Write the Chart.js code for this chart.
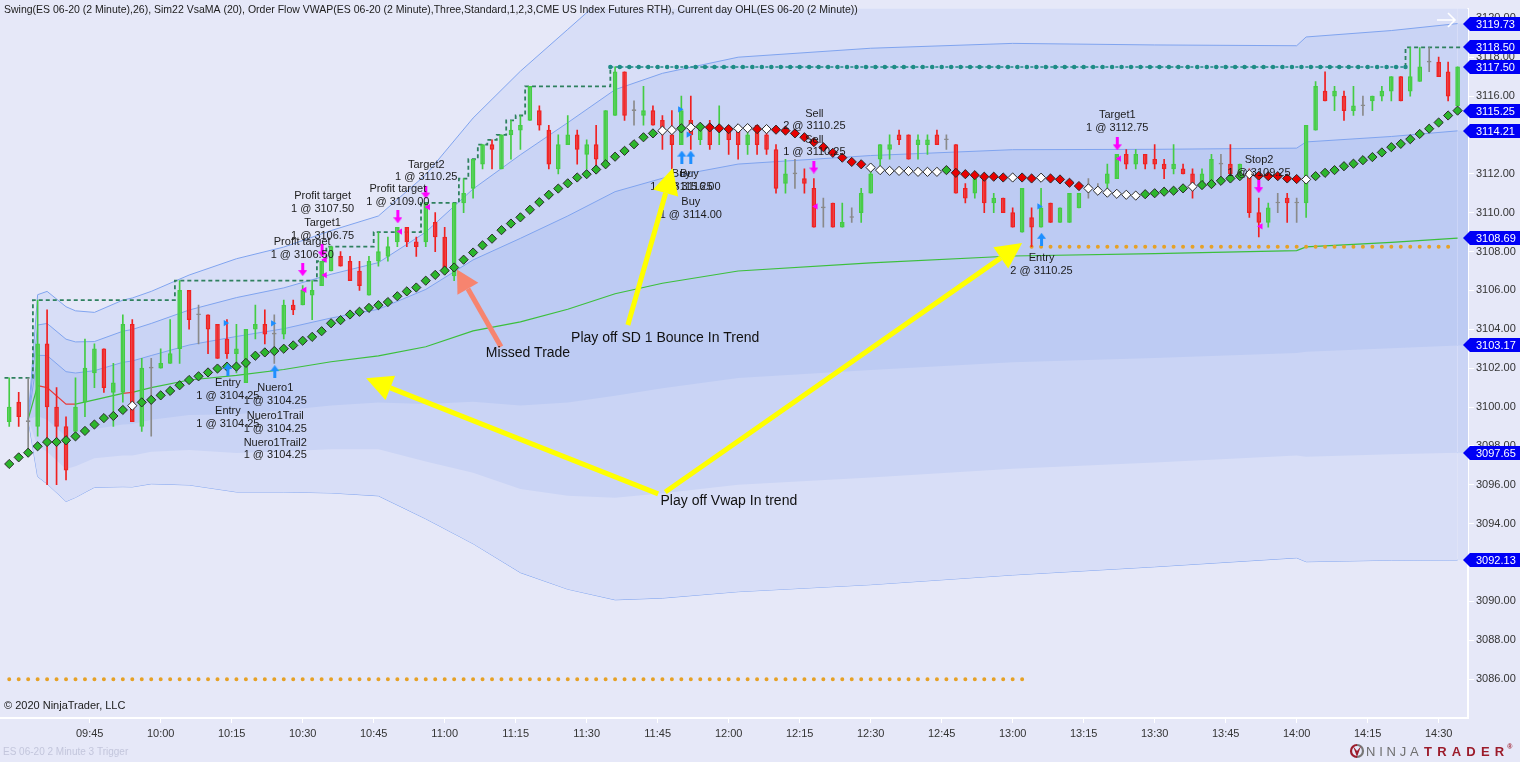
<!DOCTYPE html>
<html>
<head>
<meta charset="utf-8">
<script src="https://cdn.jsdelivr.net/npm/chart.js@4.4.1/dist/chart.umd.min.js"></script>
<style>
  html, body { margin: 0; padding: 0; background: #e6e8f8; }
  #wrap { width: 1520px; height: 762px; position: relative; }
</style>
</head>
<body>
<div id="wrap"><canvas id="chart"></canvas></div>
<script>
// ---- data (ES 06-20, 2 minute bars) ----
const chartTitle = 'Swing(ES 06-20 (2 Minute),26), Sim22 VsaMA (20), Order Flow VWAP(ES 06-20 (2 Minute),Three,Standard,1,2,3,CME US Index Futures RTH), Current day OHL(ES 06-20 (2 Minute))';
const firstBar = '09:28';
const timeTicks = ['09:45','10:00','10:15','10:30','10:45','11:00','11:15','11:30','11:45','12:00','12:15','12:30','12:45','13:00','13:15','13:30','13:45','14:00','14:15','14:30'];
const priceTicks = [3086,3088,3090,3092,3094,3096,3098,3100,3102,3104,3106,3108,3110,3112,3114,3116,3118,3120];

const opens = [
  3099.25,3100.25,3099.25,3099.0,3103.25,3100.0,3099.0,3098.75,3100.25,3101.75,
  3103.0,3100.75,3100.75,3104.25,3099.0,3102.0,3102.0,3102.25,3103.0,3106.0,
  3104.75,3104.75,3104.25,3103.5,3102.75,3101.25,3104.0,3104.25,3103.75,3103.75,
  3105.25,3105.25,3105.75,3106.25,3107.0,3107.75,3107.5,3107.0,3105.75,3107.5,
  3107.75,3108.5,3109.25,3108.5,3108.5,3109.5,3108.75,3106.75,3110.5,3111.25,
  3112.5,3113.5,3112.25,3114.0,3114.25,3114.75,3115.25,3114.25,3112.25,3113.5,
  3114.0,3113.0,3113.5,3112.5,3115.0,3117.25,3115.25,3115.0,3115.25,3114.75,
  3114.0,3113.5,3114.75,3113.75,3114.5,3114.25,3114.25,3114.25,3113.5,3114.5,
  3114.0,3113.25,3111.5,3112.0,3111.75,3111.25,3110.25,3110.5,3109.25,3109.75,
  3110.0,3111.0,3112.75,3113.25,3114.0,3114.0,3113.5,3113.5,3114.0,3113.75,
  3113.5,3111.25,3111.0,3111.75,3110.5,3110.75,3110.0,3109.0,3109.75,3109.25,
  3110.5,3109.5,3109.5,3110.25,3111.25,3111.25,3111.5,3111.75,3113.0,3112.5,
  3113.0,3112.75,3112.5,3112.25,3112.25,3112.0,3111.5,3111.5,3112.5,3112.5,
  3111.75,3112.0,3110.0,3109.5,3110.5,3110.75,3110.5,3110.5,3114.25,3116.25,
  3116.0,3116.0,3115.25,3115.5,3115.75,3116.0,3116.25,3117.0,3116.25,3116.75,
  3117.75,3117.75,3117.25,3115.5
];
const highs = [
  3101.5,3100.75,3101.5,3105.5,3105.0,3101.0,3099.5,3101.5,3103.5,3103.25,
  3103.0,3102.25,3104.75,3104.5,3102.5,3102.5,3103.0,3104.5,3106.5,3106.0,
  3105.25,3104.75,3104.25,3104.5,3104.25,3104.0,3105.25,3105.0,3104.75,3105.5,
  3105.5,3106.25,3106.5,3107.5,3108.25,3108.0,3107.75,3107.5,3107.75,3109.0,
  3108.75,3109.25,3109.25,3108.75,3110.5,3110.0,3109.25,3110.5,3111.75,3112.75,
  3113.5,3113.75,3114.0,3114.75,3115.0,3116.5,3115.5,3114.5,3114.0,3115.0,
  3114.25,3113.75,3114.5,3115.25,3117.5,3117.25,3115.75,3116.5,3115.5,3115.0,
  3115.25,3116.0,3116.0,3114.5,3114.75,3115.5,3114.5,3114.5,3114.5,3114.5,
  3114.25,3113.5,3112.75,3112.75,3112.25,3111.75,3110.75,3110.5,3110.5,3110.25,
  3111.25,3112.25,3113.5,3114.0,3114.25,3114.0,3114.0,3114.0,3114.25,3114.0,
  3113.5,3111.5,3112.0,3112.0,3111.0,3110.75,3110.25,3111.25,3110.25,3111.25,
  3110.5,3110.25,3111.0,3111.0,3111.75,3111.5,3112.5,3113.0,3113.25,3113.25,
  3113.0,3113.5,3112.75,3113.5,3112.5,3112.25,3112.25,3113.0,3113.0,3113.5,
  3112.5,3112.25,3110.75,3110.5,3111.0,3111.0,3110.75,3114.5,3116.75,3117.25,
  3116.5,3116.25,3116.5,3116.0,3116.0,3116.5,3117.0,3117.0,3118.5,3118.5,
  3118.5,3118.0,3117.75,3117.5
];
const lows = [
  3099.0,3099.0,3097.75,3098.5,3096.0,3096.0,3096.25,3098.75,3099.5,3101.0,
  3100.75,3099.0,3100.25,3099.25,3098.75,3098.5,3102.0,3102.25,3102.25,3104.0,
  3103.25,3102.75,3102.5,3102.5,3101.75,3101.25,3103.5,3103.25,3102.25,3103.5,
  3104.75,3105.25,3104.5,3106.25,3107.0,3107.25,3106.5,3106.0,3105.75,3107.25,
  3107.5,3108.25,3108.25,3107.75,3108.25,3108.0,3107.0,3106.5,3110.0,3110.75,
  3112.25,3112.25,3112.25,3112.75,3113.25,3114.75,3114.25,3112.25,3112.0,3113.5,
  3112.5,3112.25,3112.25,3112.5,3115.0,3114.75,3114.5,3114.5,3114.5,3113.25,
  3112.25,3113.5,3113.25,3113.5,3113.25,3113.5,3113.0,3112.75,3113.0,3113.0,
  3113.0,3111.0,3111.0,3111.25,3111.0,3109.25,3109.25,3109.25,3109.25,3109.5,
  3109.5,3111.0,3112.25,3112.75,3113.5,3112.75,3112.75,3113.0,3113.5,3113.25,
  3111.0,3110.5,3110.75,3110.0,3110.0,3110.0,3109.25,3109.0,3108.25,3109.25,
  3109.5,3109.5,3109.5,3110.25,3110.75,3111.0,3111.0,3111.75,3112.25,3112.25,
  3112.25,3112.25,3111.75,3112.0,3112.0,3110.75,3111.25,3111.5,3111.75,3111.75,
  3111.75,3109.75,3108.75,3109.25,3110.0,3109.5,3109.5,3109.75,3114.25,3115.75,
  3115.25,3114.75,3115.0,3115.0,3115.25,3115.75,3115.75,3115.75,3116.0,3116.75,
  3117.25,3117.0,3115.75,3115.5
];
const closes = [
  3100.0,3099.5,3099.25,3103.25,3100.0,3099.0,3096.75,3100.0,3102.0,3103.0,
  3101.0,3101.25,3104.25,3099.25,3102.0,3102.0,3102.25,3102.75,3106.0,3104.5,
  3104.75,3104.0,3102.5,3102.75,3103.0,3104.0,3104.25,3103.75,3103.75,3105.25,
  3105.0,3106.0,3106.0,3107.5,3108.25,3107.25,3106.5,3106.25,3107.5,3108.0,
  3108.25,3109.25,3108.5,3108.25,3110.5,3108.75,3107.0,3110.5,3111.0,3112.75,
  3113.5,3113.25,3114.0,3114.25,3114.5,3116.5,3114.5,3112.5,3113.5,3114.0,
  3113.25,3113.5,3112.75,3115.25,3117.25,3115.0,3115.25,3115.25,3114.5,3114.25,
  3113.5,3115.25,3114.0,3114.25,3113.5,3114.5,3113.75,3113.5,3114.0,3113.5,
  3113.25,3111.25,3112.0,3112.0,3111.5,3109.25,3110.25,3109.25,3109.5,3109.75,
  3111.0,3112.0,3113.5,3113.5,3113.75,3112.75,3113.75,3113.75,3113.5,3113.75,
  3111.0,3110.75,3111.75,3110.5,3110.75,3110.0,3109.25,3111.25,3109.25,3110.25,
  3109.5,3110.25,3111.0,3111.0,3111.25,3111.25,3112.0,3113.0,3112.5,3113.0,
  3112.5,3112.5,3112.25,3112.5,3112.0,3111.25,3112.0,3112.75,3112.5,3112.0,
  3112.5,3110.0,3109.5,3110.25,3110.5,3110.5,3110.5,3114.5,3116.5,3115.75,
  3116.25,3115.25,3115.5,3115.5,3116.0,3116.25,3117.0,3115.75,3117.0,3117.5,
  3117.75,3117.0,3116.0,3117.5
];

// Sim22 VsaMA (20), one diamond per bar
const vsaVals = [
  3097.07,3097.41,3097.65,3097.98,3098.20,3098.20,3098.29,3098.49,3098.77,3099.10,
  3099.43,3099.54,3099.85,3100.07,3100.24,3100.37,3100.60,3100.83,3101.12,3101.39,
  3101.58,3101.78,3101.98,3102.08,3102.08,3102.27,3102.64,3102.81,3102.88,3103.00,
  3103.17,3103.41,3103.61,3103.90,3104.31,3104.47,3104.76,3104.90,3105.10,3105.24,
  3105.40,3105.70,3105.95,3106.15,3106.50,3106.80,3107.02,3107.18,3107.58,3107.95,
  3108.32,3108.66,3109.10,3109.44,3109.76,3110.15,3110.54,3110.92,3111.24,3111.51,
  3111.81,3111.98,3112.22,3112.49,3112.88,3113.18,3113.52,3113.88,3114.08,3114.22,
  3114.25,3114.34,3114.39,3114.42,3114.39,3114.34,3114.30,3114.34,3114.35,3114.30,
  3114.30,3114.27,3114.22,3114.08,3113.88,3113.63,3113.37,3113.08,3112.83,3112.61,
  3112.49,3112.32,3112.19,3112.15,3112.15,3112.14,3112.10,3112.10,3112.10,3112.19,
  3112.05,3111.98,3111.93,3111.85,3111.85,3111.81,3111.81,3111.81,3111.76,3111.80,
  3111.76,3111.71,3111.54,3111.37,3111.25,3111.13,3111.03,3110.97,3110.92,3110.88,
  3110.95,3111.00,3111.08,3111.13,3111.25,3111.34,3111.42,3111.47,3111.64,3111.76,
  3111.88,3111.98,3111.90,3111.88,3111.88,3111.76,3111.73,3111.71,3111.88,3112.05,
  3112.19,3112.39,3112.52,3112.70,3112.86,3113.10,3113.37,3113.54,3113.78,3114.05,
  3114.32,3114.64,3115.00,3115.25
];
// diamond colour per bar: g = up, r = down, w = neutral
const vsaTrend = 'g'.repeat(13) + 'w' + 'g'.repeat(55) + 'wwgwg' + 'rrr' + 'ww' + 'r' + 'w' +
  'r'.repeat(10) + 'w'.repeat(8) + 'g' + 'r'.repeat(6) + 'w' + 'rr' + 'w' + 'r'.repeat(4) +
  'w'.repeat(6) + 'g'.repeat(5) + 'w' + 'g'.repeat(5) + 'w' + 'r'.repeat(5) + 'w' + 'g'.repeat(16);

// Order Flow VWAP and its 1/2/3 standard deviation bands, sampled at these bars
const bandBars = [2,3,4,6,7,9,12,13,15,19,24,29,34,39,44,49,54,59,64,69,77,91,106,121,136,137,146,153];
const vwapVals = [3099.37,3101.10,3101.00,3100.15,3100.15,3100.37,3100.70,3100.75,3101.00,3101.39,3101.63,3101.93,3102.33,3102.63,3103.10,3103.92,3104.38,3105.03,3105.83,3106.37,3107.00,3107.42,3107.77,3107.89,3108.05,3108.24,3108.47,3108.69];
const vwapTrend = 'grrrggr' + 'g'.repeat(20);
const upper1 = [3099.37,3102.66,3102.65,3101.82,3101.75,3101.87,3102.30,3102.37,3102.65,3103.19,3103.63,3104.03,3104.58,3105.03,3106.05,3107.57,3108.68,3109.83,3111.08,3111.77,3112.50,3112.94,3113.24,3113.26,3113.32,3113.64,3113.92,3114.21];
const upper2 = [3099.37,3104.22,3104.30,3103.49,3103.35,3103.37,3103.90,3103.99,3104.30,3104.99,3105.63,3106.13,3106.83,3107.43,3109.00,3111.22,3112.98,3114.63,3116.33,3117.17,3118.00,3118.46,3118.71,3118.63,3118.59,3119.04,3119.37,3119.73];
const upper3 = [3099.37,3105.78,3105.95,3105.16,3104.95,3104.87,3105.50,3105.61,3105.95,3106.79,3107.63,3108.23,3109.08,3109.83,3111.95,3114.87,3117.28,3119.43,3121.58,3122.57,3123.50,3123.98,3124.18,3124.00,3123.86,3124.44,3124.82,3125.25];
const lower1 = [3099.37,3099.54,3099.35,3098.48,3098.55,3098.87,3099.10,3099.13,3099.35,3099.59,3099.63,3099.83,3100.08,3100.23,3100.15,3100.27,3100.08,3100.23,3100.58,3100.97,3101.50,3101.90,3102.30,3102.52,3102.78,3102.84,3103.02,3103.17];
const lower2 = [3099.37,3097.98,3097.70,3096.81,3096.95,3097.37,3097.50,3097.51,3097.70,3097.79,3097.63,3097.73,3097.83,3097.83,3097.20,3096.62,3095.78,3095.43,3095.33,3095.57,3096.00,3096.38,3096.83,3097.15,3097.51,3097.44,3097.57,3097.65];
const lower3 = [3099.37,3096.42,3096.05,3095.14,3095.35,3095.87,3095.90,3095.89,3096.05,3095.99,3095.63,3095.63,3095.58,3095.43,3094.25,3092.97,3091.48,3090.63,3090.08,3090.17,3090.50,3090.86,3091.36,3091.78,3092.24,3092.04,3092.12,3092.13];

// Swing highs (step line), the running swing, and the last swing
const swingTimes = ['09:27','09:33','10:03','10:33','10:35','10:45','10:55','11:03','11:05','11:07','11:09','11:11','11:13','11:15','11:17','11:35'];
const swingLevels = [3101.5,3105.5,3106.5,3107.5,3108.25,3109.0,3110.5,3111.75,3112.75,3113.5,3113.75,3114.0,3114.75,3115.0,3116.5,3117.5];
const runningSwingTimes = ['11:35','14:23'];
const runningSwingLevels = [3117.5,3117.5];
const lastSwingTimes = ['14:23','14:23','14:35'];
const lastSwingLevels = [3117.5,3118.5,3118.5];

// Current day OHL
const ohlLowTimes = ['09:28','13:02'];
const ohlLowLevel = 3086.0;
const ohlHighTimes = ['13:04','14:34'];
const ohlHighLevel = 3108.25;

// executions: [minute of day, price]
const buyArrows = [[614.2,3101.93],[624.1,3101.82],[710.1,3112.86],[712.0,3112.86],[786.1,3108.63]];
const buyFills = [[613.7,3104.32],[623.7,3104.31],[709.7,3115.32],[711.5,3114.02],[785.6,3110.32]];
const sellArrows = [[630.0,3107.07],[634.1,3108.03],[650.1,3109.79],[656.0,3111.06],[738.0,3112.35],[802.1,3113.54],[832.0,3111.34]];
const sellFills = [[630.4,3106.03],[634.7,3107.58],[634.7,3106.79],[650.6,3109.03],[656.5,3110.29],[738.4,3110.32],[802.5,3112.78],[832.4,3109.30]];

// order labels: [minute, price of first line, name, fill]
const orderLabels = [
  [614.2,3101.22,'Entry','1 @ 3104.25'],
  [614.2,3099.80,'Entry','1 @ 3104.25'],
  [624.2,3100.97,'Nuero1','1 @ 3104.25'],
  [624.2,3099.54,'Nuero1Trail','1 @ 3104.25'],
  [624.2,3098.17,'Nuero1Trail2','1 @ 3104.25'],
  [629.9,3108.49,'Profit target','1 @ 3106.50'],
  [634.2,3109.47,'Target1','1 @ 3106.75'],
  [634.2,3110.85,'Profit target','1 @ 3107.50'],
  [650.1,3111.20,'Profit target','1 @ 3109.00'],
  [656.1,3112.46,'Target2','1 @ 3110.25'],
  [710.0,3111.98,'Buy','1 @ 3115.25'],
  [711.7,3111.98,'Buy','1 @ 3116.00'],
  [712.0,3110.55,'Buy','1 @ 3114.00'],
  [738.1,3115.10,'Sell','2 @ 3110.25'],
  [738.1,3113.76,'Sell','1 @ 3110.25'],
  [802.1,3115.03,'Target1','1 @ 3112.75'],
  [786.1,3107.66,'Entry','2 @ 3110.25'],
  [832.05,3112.70,'Stop2','1 @ 3109.25']
];

// hand drawn notes: [minute, price, text] and arrows [tail minute, tail price, tip minute, tip price]
const notes = [[686.7,3103.56,'Play off SD 1 Bounce In Trend'],[668.7,3102.75,'Missed Trade'],[705.6,3095.17,'Play off Vwap In trend']];
const salmonArrows = [[671.9,3103.1,662.6,3107.07]];
const yellowArrows = [[698.7,3104.22,708.2,3112.3],[705.1,3095.53,643.4,3101.48],[706.6,3095.63,782.0,3108.44]];

// ---- helpers ----
const FONT = '"Liberation Sans", Arial, sans-serif';
Chart.defaults.font.family = FONT;
const X_MIN = 566.05, X_MAX = 876.2;
const tm = s => { const p = s.split(':'); return +p[0] * 60 + +p[1]; };
const hhmm = v => String(Math.floor(v / 60)).padStart(2, '0') + ':' + String(Math.round(v % 60)).padStart(2, '0');
const barTime = i => tm(firstBar) + 2 * i;
const pts = (times, vals) => times.map((t, i) => ({ x: typeof t === 'string' ? tm(t) : t, y: vals[i] }));
const pairs = arr => arr.map(p => ({ x: p[0], y: p[1] }));

const GREEN = '#44cc44', RED = '#f02020', GRAY = '#8a8a8a';
const candleColor = opens.map((o, i) => closes[i] > o ? GREEN : closes[i] < o ? RED : GRAY);
const candleFill = opens.map((o, i) => closes[i] > o ? 'rgba(90,215,90,0.22)' : closes[i] < o ? 'rgba(245,80,80,0.25)' : GRAY);
const diamondColor = vsaTrend.split('').map(c => c === 'g' ? '#2cb52c' : c === 'r' ? '#e80000' : '#ffffff');

function arrowIcon(color, up) {
  const c = document.createElement('canvas');
  c.width = 9; c.height = 13;
  const g = c.getContext('2d');
  g.fillStyle = color;
  if (!up) { g.translate(0, 13); g.scale(1, -1); }
  g.beginPath();
  g.moveTo(4.5, 0); g.lineTo(9, 6); g.lineTo(6, 6); g.lineTo(6, 13);
  g.lineTo(3, 13); g.lineTo(3, 6); g.lineTo(0, 6);
  g.closePath(); g.fill();
  return c;
}

const barPx = 1468 / (X_MAX - X_MIN) * 2; // pixel spacing of one 2 minute bar

// band lines stop at the last bar, their fills run on to the price axis
const bandLine = {
  type: 'line', borderColor: '#80a4ef', borderWidth: 1, pointRadius: 0,
  segment: { borderColor: c => c.p1DataIndex === bandBars.length ? 'rgba(0,0,0,0)' : undefined }
};
const bandSet = vals => [...pts(bandBars.map(barTime), vals), { x: X_MAX, y: vals[vals.length - 1] }];

function drawArrow(ctx, x0, y0, x1, y1, color, lw, hl, hw) {
  const a = Math.atan2(y1 - y0, x1 - x0);
  const bx = x1 - Math.cos(a) * hl, by = y1 - Math.sin(a) * hl;
  ctx.save();
  ctx.strokeStyle = color; ctx.fillStyle = color; ctx.lineWidth = lw;
  ctx.beginPath(); ctx.moveTo(x0, y0); ctx.lineTo(bx, by); ctx.stroke();
  ctx.beginPath(); ctx.moveTo(x1, y1);
  ctx.lineTo(bx + Math.sin(a) * hw / 2, by - Math.cos(a) * hw / 2);
  ctx.lineTo(bx - Math.sin(a) * hw / 2, by + Math.cos(a) * hw / 2);
  ctx.closePath(); ctx.fill();
  ctx.restore();
}

const annotations = {
  id: 'annotations',
  afterDatasetsDraw(chart) {
    const { ctx, scales: { x, y } } = chart;
    ctx.save();
    ctx.font = '11px ' + FONT;
    ctx.fillStyle = '#1c1c1c';
    ctx.textAlign = 'center';
    ctx.textBaseline = 'middle';
    orderLabels.forEach(l => {
      const px = x.getPixelForValue(l[0]), py = y.getPixelForValue(l[1]);
      ctx.fillText(l[2], px, py);
      ctx.fillText(l[3], px, py + 12.6);
    });
    salmonArrows.forEach(a => drawArrow(ctx, x.getPixelForValue(a[0]), y.getPixelForValue(a[1]),
      x.getPixelForValue(a[2]), y.getPixelForValue(a[3]), '#f7846f', 5, 22, 24));
    yellowArrows.forEach(a => drawArrow(ctx, x.getPixelForValue(a[0]), y.getPixelForValue(a[1]),
      x.getPixelForValue(a[2]), y.getPixelForValue(a[3]), '#ffff00', 5, 26, 26));
    ctx.font = '14px ' + FONT;
    ctx.fillStyle = '#111';
    ctx.textAlign = 'left';
    notes.forEach(n => ctx.fillText(n[2], x.getPixelForValue(n[0]), y.getPixelForValue(n[1])));
    ctx.restore();
  }
};

const chrome = {
  id: 'chrome',
  afterDraw(chart) {
    const { ctx, chartArea: area, scales: { y } } = chart;
    ctx.save();
    ctx.textBaseline = 'middle';
    ctx.textAlign = 'left';
    ctx.fillStyle = '#202020';
    ctx.font = '10.5px ' + FONT;
    ctx.fillText(chartTitle, 4, 10);
    ctx.font = '11px ' + FONT;
    ctx.fillText('\u00a9 2020 NinjaTrader, LLC', 4, 706);
    ctx.fillStyle = '#c3c6dc';
    ctx.font = '10px ' + FONT;
    ctx.fillText('ES 06-20 2 Minute 3 Trigger', 3, 752);

    // scroll arrow top right
    ctx.strokeStyle = '#ffffff'; ctx.lineWidth = 1.6;
    ctx.beginPath();
    ctx.moveTo(area.right - 31, 20); ctx.lineTo(area.right - 13, 20);
    ctx.moveTo(area.right - 20, 13); ctx.lineTo(area.right - 13, 20); ctx.lineTo(area.right - 20, 27);
    ctx.stroke();

    // price markers on the axis
    ctx.font = '11px ' + FONT;
    chart.data.datasets.forEach(ds => {
      if (!ds.flag) return;
      const v = ds.data[ds.data.length - 1].y;
      const py = Math.round(y.getPixelForValue(v));
      ctx.fillStyle = '#0000f5';
      ctx.beginPath();
      ctx.moveTo(area.right - 5, py);
      ctx.lineTo(area.right + 2, py - 7);
      ctx.lineTo(1520, py - 7);
      ctx.lineTo(1520, py + 7);
      ctx.lineTo(area.right + 2, py + 7);
      ctx.closePath(); ctx.fill();
      ctx.fillStyle = '#ffffff';
      ctx.fillText(v.toFixed(2), area.right + 8, py + 0.5);
    });

    // NinjaTrader logo
    ctx.lineWidth = 2.2;
    ctx.strokeStyle = '#9c1c2b';
    ctx.beginPath(); ctx.arc(1357, 751, 6, Math.PI * 0.5, Math.PI * 1.5); ctx.stroke();
    ctx.strokeStyle = '#777';
    ctx.beginPath(); ctx.arc(1357, 751, 6, Math.PI * 1.5, Math.PI * 2.5); ctx.stroke();
    ctx.fillStyle = '#9c1c2b';
    ctx.beginPath(); ctx.moveTo(1353, 746); ctx.lineTo(1357, 757); ctx.lineTo(1361, 746); ctx.lineTo(1357, 751); ctx.closePath(); ctx.fill();
    let cx = 1366;
    ctx.font = '13px ' + FONT; ctx.fillStyle = '#6e6e6e';
    for (const ch of 'NINJA') { ctx.fillText(ch, cx, 752); cx += ctx.measureText(ch).width + 3.8; }
    cx = 1424;
    ctx.font = 'bold 13px ' + FONT; ctx.fillStyle = '#9c1c2b';
    for (const ch of 'TRADER') { ctx.fillText(ch, cx, 752); cx += ctx.measureText(ch).width + 5.2; }
    ctx.font = 'bold 7px ' + FONT;
    ctx.fillText('\u00ae', cx - 2, 747);
    ctx.restore();
  }
};

new Chart(document.getElementById('chart'), {
  type: 'line',
  data: {
    datasets: [
      // 0..5 bands, fills between opposite bands
      { ...bandLine, data: bandSet(upper3), fill: 5, backgroundColor: '#d8def7', order: 8 },
      { ...bandLine, data: bandSet(upper2), fill: 4, backgroundColor: '#cad4f5', order: 7, flag: true },
      { ...bandLine, data: bandSet(upper1), fill: 3, backgroundColor: '#bdcbf3', order: 6, flag: true },
      { ...bandLine, data: bandSet(lower1), order: 9, flag: true },
      { ...bandLine, data: bandSet(lower2), order: 9, flag: true },
      { ...bandLine, data: bandSet(lower3), order: 9, flag: true },
      {
        type: 'line', data: pts(bandBars.map(barTime), vwapVals), borderWidth: 1.2, pointRadius: 0,
        borderColor: '#3cbf3c', order: 5, flag: true,
        segment: { borderColor: c => vwapTrend[c.p0DataIndex] === 'r' ? '#e83a3a' : '#3cbf3c' }
      },
      {
        type: 'line', data: pts(ohlLowTimes, [ohlLowLevel, ohlLowLevel]), borderColor: '#e6a126',
        borderWidth: 4, borderDash: [0, barPx], borderCapStyle: 'round', pointRadius: 0, order: 4
      },
      {
        type: 'line', data: pts(ohlHighTimes, [ohlHighLevel, ohlHighLevel]), borderColor: '#e6a126',
        borderWidth: 4, borderDash: [0, barPx], borderCapStyle: 'round', pointRadius: 0, order: 4
      },
      {
        type: 'line', data: pts(swingTimes, swingLevels), stepped: true, borderColor: '#2e805e',
        borderWidth: 1.8, borderDash: [4, 3], pointRadius: 0, order: 3
      },
      {
        type: 'line', data: pts(runningSwingTimes, runningSwingLevels), borderColor: '#1f8c86',
        borderWidth: 1.5, borderDash: [3, 2], pointRadius: 0, order: 3, flag: true
      },
      {
        type: 'line', data: pts(runningSwingTimes, runningSwingLevels), borderColor: '#1f8c86',
        borderWidth: 4.5, borderDash: [0, barPx], borderCapStyle: 'round', pointRadius: 0, order: 3
      },
      {
        type: 'line', data: pts(lastSwingTimes, lastSwingLevels), stepped: true, borderColor: '#2e805e',
        borderWidth: 1.8, borderDash: [4, 3], pointRadius: 0, order: 3, flag: true
      },
      // candle wicks and bodies
      {
        type: 'bar', grouped: false, barThickness: 1, order: 2,
        data: highs.map((h, i) => ({ x: barTime(i), y: [lows[i], h] })),
        backgroundColor: candleColor
      },
      {
        type: 'bar', grouped: false, barThickness: 4, minBarLength: 1, order: 1,
        data: opens.map((o, i) => ({ x: barTime(i), y: [o, closes[i]] })),
        backgroundColor: candleFill, borderColor: candleColor, borderWidth: 1, borderSkipped: false
      },
      // VsaMA diamonds
      {
        type: 'line', showLine: false, order: 0, flag: true,
        data: vsaVals.map((v, i) => ({ x: barTime(i), y: v })),
        pointStyle: 'rectRot', pointRadius: 4.6, pointBackgroundColor: diamondColor,
        pointBorderColor: '#2b2b2b', pointBorderWidth: 1
      },
      // executions
      { type: 'line', showLine: false, order: -1, data: pairs(buyArrows), pointStyle: arrowIcon('#1e8fff', true) },
      { type: 'line', showLine: false, order: -1, data: pairs(sellArrows), pointStyle: arrowIcon('#ff00ff', false) },
      {
        type: 'line', showLine: false, order: -1, data: pairs(buyFills), pointStyle: 'triangle',
        pointRotation: 90, pointRadius: 3.6, pointBackgroundColor: '#1e8fff', pointBorderWidth: 0
      },
      {
        type: 'line', showLine: false, order: -1, data: pairs(sellFills), pointStyle: 'triangle',
        pointRotation: 270, pointRadius: 3.6, pointBackgroundColor: '#ff00ff', pointBorderWidth: 0
      }
    ]
  },
  options: {
    responsive: true,
    maintainAspectRatio: false,
    animation: false,
    events: [],
    layout: { padding: 0, autoPadding: false },
    plugins: { legend: { display: false }, tooltip: { enabled: false } },
    scales: {
      x: {
        type: 'linear', min: X_MIN, max: X_MAX, offset: false, position: 'bottom',
        afterBuildTicks: s => { s.ticks = timeTicks.map(t => ({ value: tm(t) })); },
        afterFit: s => { s.height = 44; },
        ticks: { callback: v => hhmm(v), color: '#333', font: { size: 11 }, padding: 4, maxRotation: 0, autoSkip: false },
        grid: { drawOnChartArea: false, offset: false, tickLength: 5, color: '#ffffff' },
        border: { color: '#ffffff', width: 2 }
      },
      y: {
        type: 'linear', position: 'right', min: 3084.0, max: 3120.5, beginAtZero: false,
        afterBuildTicks: s => { s.ticks = priceTicks.map(v => ({ value: v })); },
        afterFit: s => { s.width = 52; },
        ticks: { callback: v => Number(v).toFixed(2), color: '#333', font: { size: 11 }, padding: 2 },
        grid: { drawOnChartArea: false, tickLength: 6, color: '#ffffff' },
        border: { color: '#ffffff', width: 2 }
      }
    }
  },
  plugins: [annotations, chrome]
});
</script>
</body>
</html>
